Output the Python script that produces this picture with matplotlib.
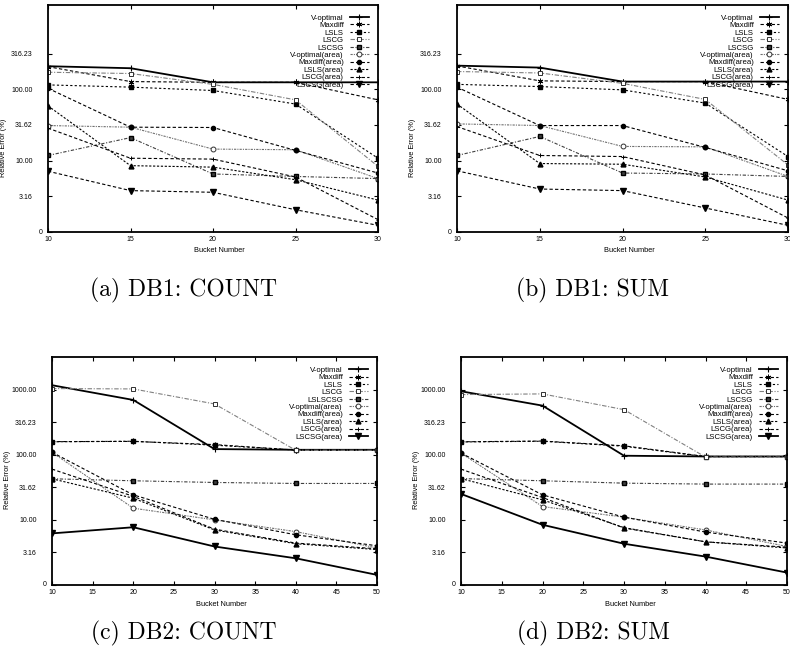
import matplotlib
matplotlib.use('Agg')
import matplotlib.pyplot as plt
from matplotlib.ticker import FixedLocator, NullLocator
from matplotlib.transforms import blended_transform_factory

plt.rcParams['font.family'] = ['Liberation Sans', 'DejaVu Sans']

# series names (panel c uses the typo "LSLSCSG" from the original legend)
methods = ['V-optimal', 'Maxdiff', 'LSLS', 'LSCG', 'LSCSG',
           'V-optimal(area)', 'Maxdiff(area)', 'LSLS(area)', 'LSCG(area)', 'LSCSG(area)']
methods_c = ['V-optimal', 'Maxdiff', 'LSLS', 'LSCG', 'LSLSCSG',
             'V-optimal(area)', 'Maxdiff(area)', 'LSLS(area)', 'LSCG(area)', 'LSCSG(area)']

db1_buckets = [10, 15, 20, 25, 30]
db2_buckets = [10, 20, 30, 40, 50]

# relative error (%), one row per method, same order as methods
db1_count = [
    [210, 197, 125, 125, 125],
    [207, 128, 125, 125, 71],
    [115, 107, 96, 62, 10.8],
    [173, 166, 117, 71, 8.3],
    [11.8, 21, 6.5, 6.0, 5.6],
    [31, 29.4, 14.5, 14.2, 5.6],
    [103, 29.4, 29.1, 13.9, 6.7],
    [58.5, 8.5, 8.1, 5.4, 2.8],
    [28.5, 10.8, 10.5, 5.9, 1.49],
    [7.1, 3.8, 3.6, 2.05, 1.24],
]
db1_sum = [
    [214, 201, 128, 128, 128],
    [212, 131, 128, 128, 72],
    [117, 109, 98, 64, 11.4],
    [177, 169, 121, 72, 8.7],
    [11.8, 21.8, 6.7, 6.5, 6.0],
    [32.7, 31, 15.8, 15.6, 6.0],
    [107, 31, 31, 15.3, 7.2],
    [62, 9.1, 8.9, 5.9, 2.8],
    [30, 11.8, 11.4, 6.3, 1.57],
    [7.2, 4.0, 3.8, 2.17, 1.24],
]
db2_count = [
    [1166, 693, 122, 119, 119],
    [159, 160, 143, 118, 118],
    [158, 161, 140, 118, 118],
    [1036, 1023, 602, 117, 117],
    [42.7, 39.8, 37.5, 36.2, 36.2],
    [109, 15.1, 10.0, 6.6, 3.7],
    [109, 24.2, 10.2, 5.9, 4.0],
    [42.7, 21.5, 7.0, 4.3, 3.5],
    [60, 23, 7.2, 4.4, 3.6],
    [6.2, 7.7, 3.9, 2.57, 1.43],
]
db2_sum = [
    [942, 567, 96.5, 94, 94],
    [158, 162, 137, 94, 94],
    [157, 161, 135, 93, 93],
    [838, 858, 492, 92, 92],
    [43, 39.8, 36.6, 35.4, 35.4],
    [106, 16, 11, 7.0, 3.9],
    [106, 24.2, 11, 6.5, 4.4],
    [43, 20.3, 7.6, 4.6, 3.7],
    [60, 22, 7.5, 4.6, 3.8],
    [25, 8.4, 4.3, 2.73, 1.55],
]

ytick_vals = [1, 3.1623, 10, 31.623, 100, 316.23, 1000]
ytick_text = ['', '3.16', '10.00', '31.62', '100.00', '316.23', '1000.00']

# gnuplot-ish line types
styles = [
    dict(ls='-', lw=1.3, color='black', marker='+', ms=4.5, mew=0.8),
    dict(ls=(0, (3, 2)), lw=0.8, color='black', marker=(6, 2, 0), ms=4, mew=0.7),
    dict(ls=(0, (2, 2)), lw=0.8, color='black', marker='s', ms=2.8),
    dict(ls=(0, (4, 1.5, 1, 1.5)), lw=0.8, color='#808080', marker='s', ms=3.5, mfc='white', mec='#303030', mew=0.7),
    dict(ls=(0, (3, 1.5, 1, 1.5)), lw=0.8, color='#404040', marker='s', ms=3.5, mec='black'),
    dict(ls=(0, (2, 1, 1, 1)), lw=0.8, color='#707070', marker='o', ms=3.5, mfc='white', mec='#303030', mew=0.7),
    dict(ls=(0, (3, 2)), lw=0.8, color='black', marker='o', ms=3),
    dict(ls=(0, (2, 1.5)), lw=0.8, color='black', marker='^', ms=3.5),
    dict(ls=(0, (3, 2)), lw=0.8, color='black', marker='+', ms=3, mew=0.7),
    dict(ls=(0, (3, 2)), lw=0.8, color='black', marker='v', ms=4),
]

fig = plt.figure(figsize=(7.9, 6.6), dpi=100)
W, H = 790.0, 660.0

panels = [
    # left, top, right, bottom (px), buckets, data, names, caption, cap x, cap y, ylog top, ylabel y
    (48, 5, 378, 232, db1_buckets, db1_count, methods, '(a) DB1: COUNT', 184, 290, 3.18, 0.37, False),
    (457, 5, 788, 232, db1_buckets, db1_sum, methods, '(b) DB1: SUM', 593, 290, 3.18, 0.37, False),
    (52, 357, 377, 585, db2_buckets, db2_count, methods_c, '(c) DB2: COUNT', 184, 633, 3.5, 0.46, True),
    (461, 357, 787, 585, db2_buckets, db2_sum, methods, '(d) DB2: SUM', 593, 633, 3.5, 0.46, True),
]

for l, t, r, b, xs, data, names, cap, cx, cy, ytop, ylab_y, solid_last in panels:
    ax = fig.add_axes([l / W, 1 - b / H, (r - l) / W, (b - t) / H])
    for i, (vals, name) in enumerate(zip(data, names)):
        st = dict(styles[i])
        if i == 9 and solid_last:
            st['ls'] = '-'
            st['lw'] = 1.3
        ax.plot(xs, vals, label=name, **st)

    ax.set_yscale('log')
    ax.set_ylim(1, 10 ** ytop)
    ax.set_xlim(xs[0], xs[-1])
    nt = 6 if ytop < 3.3 else 7
    ax.yaxis.set_major_locator(FixedLocator(ytick_vals[:nt]))
    ax.yaxis.set_minor_locator(NullLocator())
    ax.set_yticklabels(ytick_text[:nt])
    ax.set_xticks(list(range(xs[0], xs[-1] + 1, 5)))
    ax.xaxis.set_minor_locator(NullLocator())
    ax.tick_params(axis='both', which='major', direction='in', top=True, right=True,
                   length=3, width=0.8, labelsize=5)
    ax.tick_params(axis='y', pad=11)
    ax.tick_params(axis='x', pad=3)
    for sp in ax.spines.values():
        sp.set_linewidth(1.3)

    # the bottom tick is labelled "0" and sits closer to the axis
    tr = blended_transform_factory(ax.transAxes, ax.transData)
    ax.text(-5 / (r - l), 1, '0', transform=tr, ha='right', va='center', fontsize=5)

    ax.set_ylabel('Relative Error (%)', fontsize=5.3)
    ax.yaxis.set_label_coords(-41 / (r - l), ylab_y)
    ax.set_xlabel('Bucket Number', fontsize=5.3)
    ax.xaxis.set_label_coords(0.52, -19 / (b - t))
    ax.xaxis.label.set_va('center')

    ax.legend(loc='upper right', fontsize=5.6, frameon=False, markerfirst=False,
              handlelength=2.4, handletextpad=0.8, labelspacing=0.0,
              borderpad=0.3, borderaxespad=0.9, numpoints=1)

    fig.text(cx / W, 1 - cy / H, cap, ha='center', va='center',
             fontfamily='cmr10', fontsize=17)

fig.savefig('out.png', dpi=100)
